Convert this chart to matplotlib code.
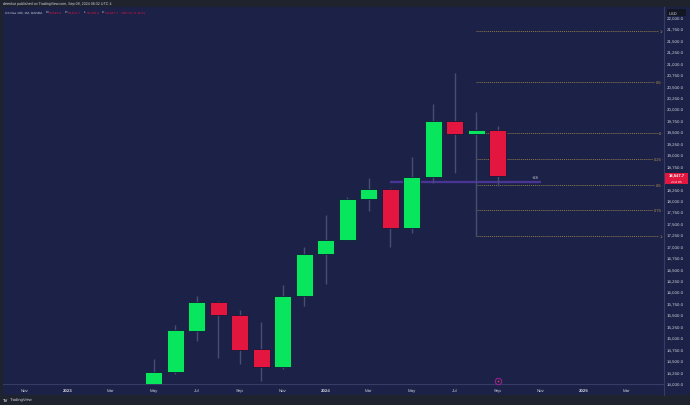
import matplotlib
matplotlib.use('AGG')
import matplotlib.pyplot as plt
from matplotlib.patches import Rectangle

plt.rcParams['font.family'] = ['Liberation Sans', 'DejaVu Sans']
plt.rcParams['text.hinting'] = 'no_hinting'

W, H = 690, 406

# monthly candles, May 2023 - Sep 2024
opens = [13990, 14256, 15165, 15792, 15508, 14758, 14378, 15930, 16842, 17154, 18037, 18269, 17410, 18525, 19755, 19465, 19552]
highs = [14546, 15296, 15930, 15808, 15624, 15355, 16164, 17001, 17694, 18094, 18503, 18284, 18955, 20120, 20791, 19939, 19639]
lows = [13950, 14219, 14946, 14562, 14444, 14072, 14334, 15698, 16186, 17140, 17788, 16988, 17294, 18393, 18612, 17235, 18321]
closes = [14262, 15180, 15792, 15508, 14750, 14378, 15930, 16842, 17154, 18044, 18269, 17403, 18525, 19755, 19458, 19545, 18547]

# month index, 0 = May 2023
time_ticks = [-6, -4, -2, 0, 2, 4, 6, 8, 10, 12, 14, 16, 18, 20, 22]
time_labels = ['Nov', '2023', 'Mar', 'May', 'Jul', 'Sep', 'Nov', '2024', 'Mar', 'May', 'Jul', 'Sep', 'Nov', '2025', 'Mar']
price_ticks = list(range(14000, 22001, 250))

fib_prices = [21716, 20594, 19480, 18911, 18350, 17797, 17228]
fib_labels = ['1', '0.5', '0', '0.25', '0.5', '0.75', '1']

BG = '#1f232e'
PANEL = '#1c2148'
GREEN = '#08e65d'
RED = '#e3163f'
WICK = '#474e74'
AXIS = '#363c66'
TEXT = '#d1d4dc'
FIB = '#8f7a48'

fig = plt.figure(figsize=(W / 100, H / 100), dpi=100, facecolor=BG)
# panel behind the plot and both scales
fig.add_artist(Rectangle((3 / W, 1 - 396 / H), 687 / W, 388 / H, transform=fig.transFigure, fc=PANEL, ec='none', zorder=-1))

ax = fig.add_axes([3 / W, 1 - 385 / H, 661 / W, 377 / H])
ax.set_facecolor(PANEL)
ax.set_xlim(-7.0, 23.74)
ax.set_ylim(14000, 22240)

months = list(range(len(opens)))

# fib levels
ax.hlines(fib_prices, 15, 23.65, colors=FIB, linestyles=(0, (1, 1)), linewidth=0.7, zorder=1)
for p, l in zip(fib_prices, fib_labels):
    ax.text(23.62, p, l, color='#b8964a', fontsize=2.9, ha='right', va='center', zorder=5,
            bbox=dict(fc=PANEL, ec='none', pad=0.3))

# measure line
ax.hlines(18422, 11, 18, colors='#4a3596', linewidth=1.6, zorder=2)
ax.text(17.75, 18490, '+28', color=TEXT, fontsize=2.9, ha='center', va='bottom')

# candles
colors = [GREEN if c >= o else RED for o, c in zip(opens, closes)]
ax.vlines(months, lows, highs, colors=WICK, linewidth=1.0, zorder=3)
bottoms = [min(o, c) for o, c in zip(opens, closes)]
heights = [abs(c - o) for o, c in zip(opens, closes)]
ax.bar(months, heights, bottom=bottoms, width=0.79, color=colors, edgecolor='#15193a', linewidth=0.6, zorder=4)

ax.yaxis.tick_right()
ax.set_yticks(price_ticks)
ax.set_yticklabels([f'{p:,.1f}' for p in price_ticks])
ax.set_xticks(time_ticks)
ax.set_xticklabels(time_labels)
ax.tick_params(axis='y', length=0, pad=2.2, labelsize=3.15, labelcolor=TEXT)
ax.tick_params(axis='x', length=0, pad=3.2, labelsize=3.2, labelcolor=TEXT)
for lab in ax.get_xticklabels():
    if lab.get_text() in ('2023', '2024', '2025'):
        lab.set_fontweight('bold')
for s in ['top', 'left']:
    ax.spines[s].set_visible(False)
for s in ['right', 'bottom']:
    ax.spines[s].set_color(AXIS)
    ax.spines[s].set_linewidth(0.8)
# scale divider runs on down through the time axis
fig.add_artist(plt.Line2D([664 / W, 664 / W], [1 - 396 / H, 1 - 385 / H], color=AXIS, linewidth=0.8))

# earnings style marker on the time line
ax.plot([16], [14075], 'o', ms=4.6, mfc='#1c2148', mec='#a0249a', mew=0.7, zorder=6, clip_on=False)
ax.plot([16], [14075], 'o', ms=1.4, mfc='#c43a4a', mec='none', zorder=7)

# header
fig.text(3 / W, 1 - 4 / H, 'deenkur published on TradingView.com, Sep 09, 2024 08:32 UTC-4', color=TEXT, fontsize=2.6, va='center')
fig.text(5 / W, 1 - 12.5 / H, 'US Nas 100, 1M, OANDA', color=TEXT, fontsize=2.3, va='center')
fig.text(46 / W, 1 - 12.5 / H, 'O', color=TEXT, fontsize=2.4, va='center')
fig.text(49 / W, 1 - 12.5 / H, '19,542.0', color=RED, fontsize=2.4, va='center')
fig.text(65 / W, 1 - 12.5 / H, 'H', color=TEXT, fontsize=2.4, va='center')
fig.text(68 / W, 1 - 12.5 / H, '19,672.7', color=RED, fontsize=2.4, va='center')
fig.text(84 / W, 1 - 12.5 / H, 'L', color=TEXT, fontsize=2.4, va='center')
fig.text(87 / W, 1 - 12.5 / H, '18,325.4', color=RED, fontsize=2.4, va='center')
fig.text(102 / W, 1 - 12.5 / H, 'C', color=TEXT, fontsize=2.4, va='center')
fig.text(105 / W, 1 - 12.5 / H, '18,547.7  \u2212997.9 (\u22125.11%)', color=RED, fontsize=2.4, va='center')

# USD box and last price box
fig.add_artist(Rectangle((666.5 / W, 1 - 17 / H), 19 / W, 7 / H, transform=fig.transFigure, fc='#131722', ec='none', zorder=10))
fig.text(668.5 / W, 1 - 13.5 / H, 'USD', color=TEXT, fontsize=3.0, va='center', zorder=11)
fig.add_artist(Rectangle((665 / W, 1 - 184.5 / H), 23 / W, 10.5 / H, transform=fig.transFigure, fc=RED, ec='none', zorder=10))
fig.text(676.5 / W, 1 - 176.6 / H, '18,547.7', color='white', fontsize=3.0, fontweight='bold', ha='center', va='center', zorder=11)
fig.text(676.5 / W, 1 - 181.9 / H, '21d 9h', color='white', fontsize=2.5, ha='center', va='center', zorder=11)

# footer logo text
fig.text(3 / W, 1 - 400.5 / H, 'TV', color=TEXT, fontsize=3.0, fontweight='bold', va='center')
fig.text(10 / W, 1 - 400.5 / H, 'TradingView', color=TEXT, fontsize=3.0, va='center')

fig.savefig('out.png', dpi=100, facecolor=BG)
plt.close(fig)
